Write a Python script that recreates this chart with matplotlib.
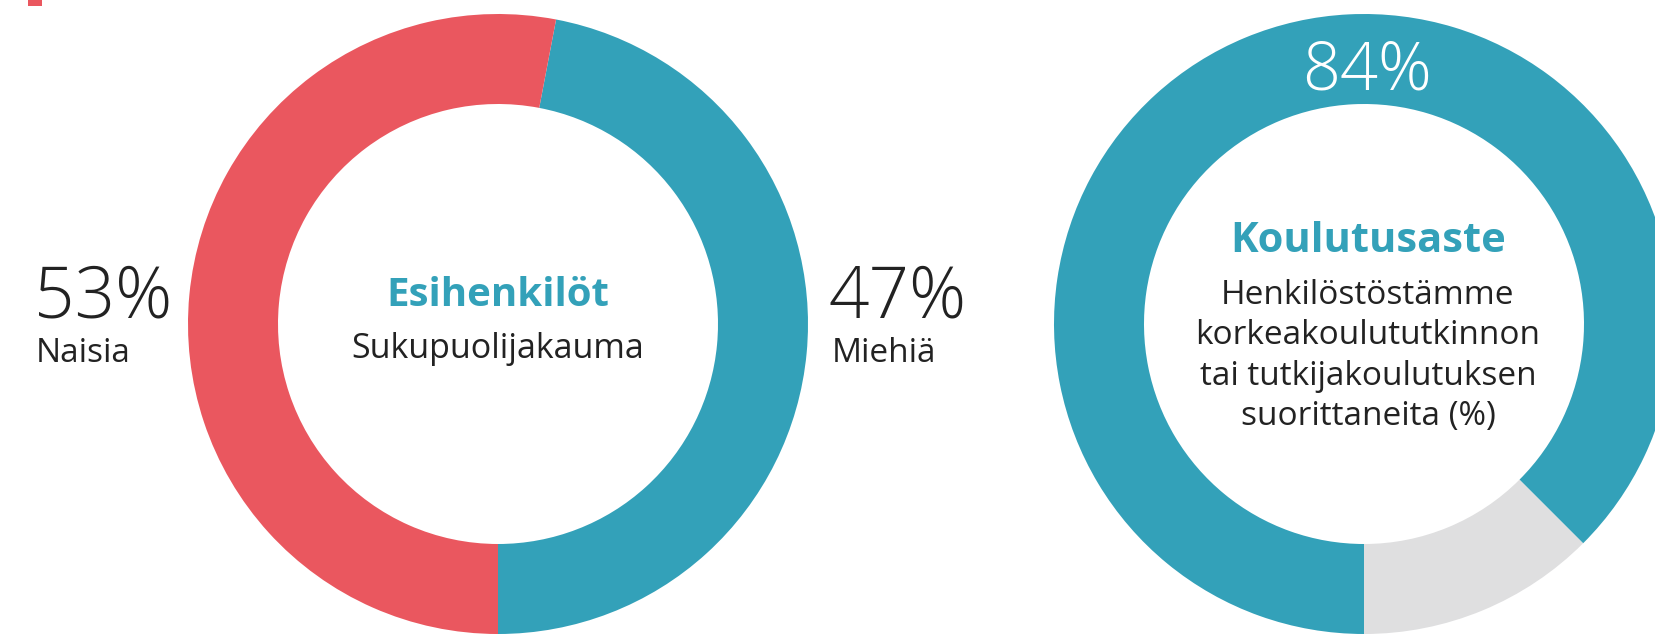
#Donut charts: gender split of managers and education level
import numpy as np
import matplotlib.pyplot as plt
from matplotlib.patches import Rectangle

plt.rcParams['font.family'] = ['Open Sans', 'DejaVu Sans']

#Data
gender_labels = ["Miehiä", "Naisia"]
gender_values = [47, 53]
gender_texts = ["47%", "53%"]

edu_labels = ["korkeakoulutettu", "muut"]
edu_values = [87.5, 12.5]      # shares as drawn in the picture
edu_text = "84%"

edu_lines = ["Henkilöstöstämme", "korkeakoulututkinnon",
             "tai tutkijakoulutuksen", "suorittaneita (%)"]

#Colors
red = "#EA575F"
teal = "#33A1B9"
grey = "#DFDFE0"
dark = "#222222"

W, H = 1655, 639
fig = plt.figure(figsize=(W / 100, H / 100), dpi=100)
ax = fig.add_axes([0, 0, 1, 1])

def py(y):
    # pixel row (from top) -> data y
    return H - y

#Left donut
ax.pie(gender_values, colors=[teal, red], startangle=-90, counterclock=True,
       center=(498, py(324)), radius=310,
       wedgeprops=dict(width=90, linewidth=0))

#Right donut
ax.pie(edu_values[::-1], colors=[grey, teal], startangle=-90, counterclock=True,
       center=(1364, py(324)), radius=310,
       wedgeprops=dict(width=90, linewidth=0))

ax.set_xlim(0, W)
ax.set_ylim(0, H)
ax.set_aspect('equal')
ax.axis('off')

#small red mark in the corner
ax.add_patch(Rectangle((28, py(6)), 14, 6, color=red, lw=0))

#Left texts
ax.text(34, py(317), gender_texts[1], fontsize=51, color=dark, fontweight='light',
        ha='left', va='baseline')
ax.text(36, py(362), gender_labels[1], fontsize=24, color=dark, ha='left', va='baseline')
ax.text(829, py(317), gender_texts[0], fontsize=51, color=dark, fontweight='light',
        ha='left', va='baseline')
ax.text(832, py(362), gender_labels[0], fontsize=24, color=dark, ha='left', va='baseline')

ax.text(498, py(306), "Esihenkilöt", fontsize=29, color=teal, fontweight='bold',
        ha='center', va='baseline')
ax.text(498, py(358), "Sukupuolijakauma", fontsize=24.5, color=dark,
        ha='center', va='baseline')

#Right texts
ax.text(1367, py(89), edu_text, fontsize=48, color='white', fontweight='light',
        ha='center', va='baseline')
ax.text(1368, py(252), "Koulutusaste", fontsize=30, color=teal, fontweight='bold',
        ha='center', va='baseline')
for i, line in enumerate(edu_lines):
    ax.text(1368, py(304 + 40.5 * i), line, fontsize=24, color=dark,
            ha='center', va='baseline')

fig.savefig("out.png", dpi=100, facecolor='white')
